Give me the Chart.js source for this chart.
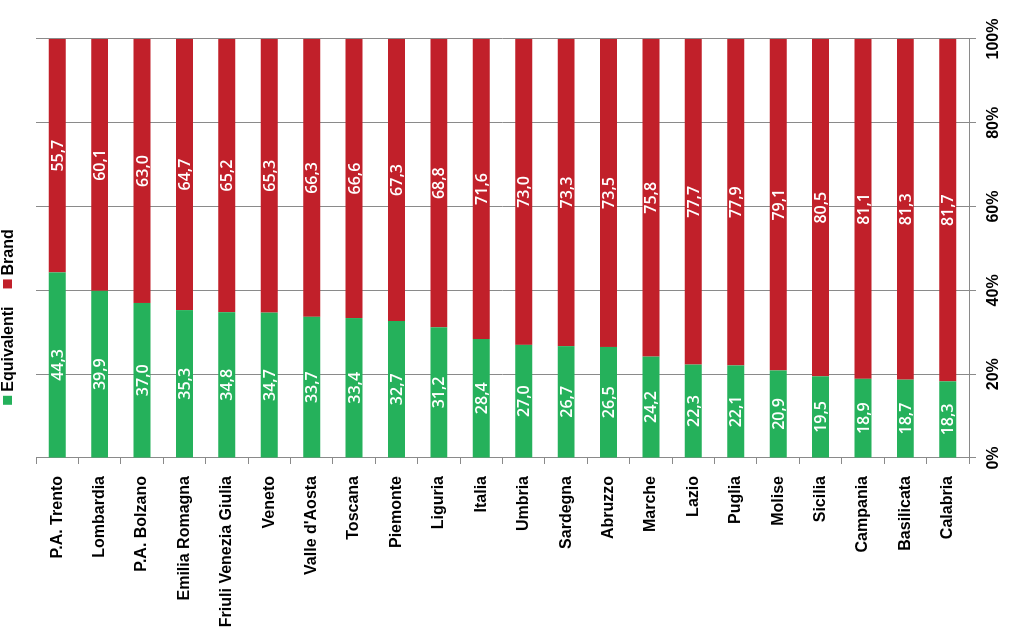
<!DOCTYPE html>
<html>
<head>
<meta charset="utf-8">
<script src="https://cdn.jsdelivr.net/npm/chart.js@4/dist/chart.umd.min.js"></script>
<style>
  html, body { margin: 0; padding: 0; background: #fff; overflow: hidden; }
  body { width: 1024px; height: 639px; position: relative; }
  /* the chart is drawn as a horizontal bar chart and turned a quarter left */
  #chart { position: absolute; left: 0; top: 0; transform-origin: 0 0; transform: translate(0, 639px) rotate(-90deg); }
</style>
</head>
<body>
<canvas id="chart" width="639" height="1024"></canvas>
<script>
const regions = [
  "P.A. Trento", "Lombardia", "P.A. Bolzano", "Emilia Romagna", "Friuli Venezia Giulia",
  "Veneto", "Valle d'Aosta", "Toscana", "Piemonte", "Liguria", "Italia", "Umbria",
  "Sardegna", "Abruzzo", "Marche", "Lazio", "Puglia", "Molise", "Sicilia",
  "Campania", "Basilicata", "Calabria"
];
const equivalenti = [44.3, 39.9, 37.0, 35.3, 34.8, 34.7, 33.7, 33.4, 32.7, 31.2, 28.4,
  27.0, 26.7, 26.5, 24.2, 22.3, 22.1, 20.9, 19.5, 18.9, 18.7, 18.3];
const brand = [55.7, 60.1, 63.0, 64.7, 65.2, 65.3, 66.3, 66.6, 67.3, 68.8, 71.6,
  73.0, 73.3, 73.5, 75.8, 77.7, 77.9, 79.1, 80.5, 81.1, 81.3, 81.7];
const percentTicks = [0, 20, 40, 60, 80, 100];

const GREEN = "#25B15B";
const RED = "#C1202A";
const GRID = "#8a8a8a";
const boldFont = { family: "'Liberation Sans', Arial, sans-serif", size: 16, weight: "bold" };

const fmt = (v) => v.toFixed(1).replace(".", ",");

const valueLabels = {
  id: "valueLabels",
  afterDatasetsDraw(chart) {
    const ctx = chart.ctx;
    ctx.save();
    ctx.font = "600 16px 'Open Sans', sans-serif";
    ctx.fillStyle = "#fff";
    ctx.textAlign = "center";
    ctx.textBaseline = "middle";
    chart.data.datasets.forEach((ds, i) => {
      chart.getDatasetMeta(i).data.forEach((bar, j) => {
        const p = bar.getCenterPoint();
        ctx.fillText(fmt(ds.data[j]), p.x, p.y + 1);
      });
    });
    ctx.restore();
  }
};

// legend drawn by hand so it can sit close to the top edge
const topLegend = {
  id: "topLegend",
  afterDraw(chart) {
    const ctx = chart.ctx;
    ctx.save();
    ctx.font = "bold 16px 'Liberation Sans', Arial, sans-serif";
    ctx.textBaseline = "middle";
    const box = 9, gap = 4, itemGap = 18;
    const items = chart.data.datasets.map((ds) => ({ text: ds.label, color: ds.backgroundColor, w: ctx.measureText(ds.label).width }));
    let total = 0;
    items.forEach((it, i) => { total += box + gap + it.w + (i ? itemGap : 0); });
    let x = 322 - total / 2;
    items.forEach((it) => {
      ctx.fillStyle = it.color;
      ctx.fillRect(x, 3, box, box);
      ctx.fillStyle = "#000";
      ctx.fillText(it.text, x + box + gap, 8.5);
      x += box + gap + it.w + itemGap;
    });
    ctx.restore();
  }
};

new Chart(document.getElementById("chart"), {
  type: "bar",
  data: {
    labels: regions,
    datasets: [
      { label: "Equivalenti", data: equivalenti, backgroundColor: GREEN },
      { label: "Brand", data: brand, backgroundColor: RED }
    ]
  },
  options: {
    indexAxis: "y",
    responsive: false,
    animation: false,
    devicePixelRatio: 1,
    layout: { padding: { top: 36, right: 39, left: 0, bottom: 0 } },
    datasets: { bar: { barPercentage: 0.4, categoryPercentage: 1.0 } },
    plugins: { legend: { display: false }, tooltip: { enabled: false } },
    scales: {
      x: {
        stacked: true,
        min: 0,
        max: 100,
        afterBuildTicks: (s) => { s.ticks = percentTicks.map((v) => ({ value: v })); },
        ticks: { callback: (v) => v + "%", font: boldFont, color: "#000", padding: 8 },
        grid: { color: GRID, tickLength: 7 },
        border: { color: GRID },
        afterFit: (s) => { s.height = 55; }
      },
      y: {
        stacked: true,
        ticks: { font: boldFont, color: "#000", padding: 12, autoSkip: false },
        grid: { drawOnChartArea: false, color: GRID, tickLength: 6, offset: true },
        border: { color: GRID },
        afterFit: (s) => { s.width = 181; }
      }
    }
  },
  plugins: [valueLabels, topLegend]
});
</script>
</body>
</html>
